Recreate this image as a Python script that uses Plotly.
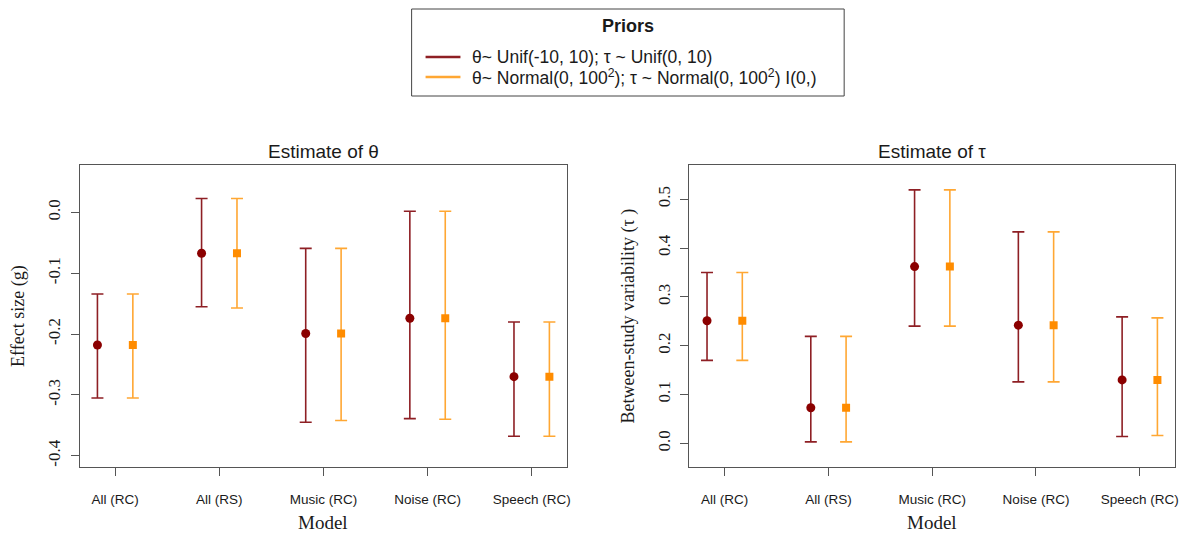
import plotly.graph_objects as go

models = ["All (RC)", "All (RS)", "Music (RC)", "Noise (RC)", "Speech (RC)"]

# Estimate of theta (effect size g)
theta_unif_est = [-0.218, -0.067, -0.199, -0.174, -0.270]
theta_unif_lo = [-0.305, -0.155, -0.345, -0.339, -0.368]
theta_unif_hi = [-0.134, 0.023, -0.059, 0.002, -0.180]
theta_norm_est = [-0.218, -0.067, -0.199, -0.174, -0.270]
theta_norm_lo = [-0.305, -0.157, -0.342, -0.340, -0.368]
theta_norm_hi = [-0.134, 0.023, -0.059, 0.002, -0.180]

# Estimate of tau (between-study variability)
tau_unif_est = [0.251, 0.073, 0.362, 0.242, 0.130]
tau_unif_lo = [0.170, 0.003, 0.240, 0.126, 0.014]
tau_unif_hi = [0.350, 0.219, 0.519, 0.433, 0.259]
tau_norm_est = [0.251, 0.073, 0.362, 0.242, 0.130]
tau_norm_lo = [0.170, 0.003, 0.240, 0.126, 0.016]
tau_norm_hi = [0.350, 0.219, 0.519, 0.433, 0.257]

theta_ticks = [-0.4, -0.3, -0.2, -0.1, 0.0]
tau_ticks = [0.0, 0.1, 0.2, 0.3, 0.4, 0.5]

legend_title = "Priors"
prior_labels = [
    "θ~ Unif(-10, 10); τ ~ Unif(0, 10)",
    "θ~ Normal(0, 100<sup>2</sup>); τ ~ Normal(0, 100<sup>2</sup>) I(0,)",
]

RED_PT = "#8B0000"
RED_BAR = "#8E1F24"
ORA_PT = "#FF8C00"
ORA_BAR = "#FFA733"
FRAME = "#555555"
TXT = "#1a1a1a"
SANS = "Liberation Sans, Arial, sans-serif"
SERIF = "Liberation Serif, Times New Roman, serif"

pos = list(range(1, len(models) + 1))
offset = 0.17

fig = go.Figure()

def add_series(xax, yax, est, lo, hi, shift, pt_col, bar_col, symbol, size):
    fig.add_trace(go.Scatter(
        x=[p + shift for p in pos], y=est,
        mode="markers",
        marker=dict(color=pt_col, symbol=symbol, size=size, line=dict(width=0)),
        error_y=dict(type="data", symmetric=False,
                     array=[h - e for h, e in zip(hi, est)],
                     arrayminus=[e - l for e, l in zip(est, lo)],
                     color=bar_col, thickness=1.6, width=6),
        xaxis=xax, yaxis=yax, showlegend=False, hoverinfo="skip",
    ))

add_series("x", "y", theta_unif_est, theta_unif_lo, theta_unif_hi, -offset, RED_PT, RED_BAR, "circle", 9)
add_series("x", "y", theta_norm_est, theta_norm_lo, theta_norm_hi, offset, ORA_PT, ORA_BAR, "square", 8)
add_series("x2", "y2", tau_unif_est, tau_unif_lo, tau_unif_hi, -offset, RED_PT, RED_BAR, "circle", 9)
add_series("x2", "y2", tau_norm_est, tau_norm_lo, tau_norm_hi, offset, ORA_PT, ORA_BAR, "square", 8)

W, H = 1194, 537
ydom = [1 - 467.3 / H, 1 - 165 / H]

def px(x):
    return x / W

def py(y):
    return 1 - y / H

xcommon = dict(
    tickmode="array", tickvals=pos, ticktext=models,
    showgrid=False, zeroline=False,
    showline=True, linecolor=FRAME, linewidth=1, mirror=True,
    ticks="outside", ticklen=8, tickcolor=FRAME, tickwidth=1,
    tickfont=dict(family=SANS, size=13.5, color=TXT),
    range=[0.66, 5.34],
    ticklabelstandoff=11,
)
ycommon = dict(
    showgrid=False, zeroline=False,
    showline=True, linecolor=FRAME, linewidth=1, mirror=True,
    ticks="outside", ticklen=8, tickcolor=FRAME, tickwidth=1,
    tickangle=-90,
    tickfont=dict(family=SERIF, size=17, color=TXT),
    domain=ydom,
    ticklabelstandoff=4,
)

# manual legend box (R-style)
shapes = [
    dict(type="rect", xref="paper", yref="paper", x0=px(413), x1=px(847), y0=py(96), y1=py(9),
         line=dict(color="#444444", width=1), fillcolor="white", layer="above"),
]
annotations = [
    dict(text="<b>%s</b>" % legend_title, x=px(630), y=py(26), xref="paper", yref="paper",
         showarrow=False, xanchor="center", yanchor="middle",
         font=dict(family=SANS, size=18, color=TXT)),
]
for lab, col, yy in zip(prior_labels, [RED_BAR, ORA_BAR], [57, 77]):
    shapes.append(dict(type="line", xref="paper", yref="paper", x0=px(427), x1=px(462),
                       y0=py(yy), y1=py(yy), line=dict(color=col, width=2.5), layer="above"))
    annotations.append(dict(text=lab, x=px(472), y=py(yy), xref="paper", yref="paper",
                            showarrow=False, xanchor="left", yanchor="middle",
                            font=dict(family=SANS, size=17.5, color=TXT)))

# subplot titles and x-axis titles
annotations += [
    dict(text="Estimate of θ", x=px((80 + 569) / 2), y=py(151), xref="paper", yref="paper",
         showarrow=False, xanchor="center", yanchor="middle",
         font=dict(family=SANS, size=19, color=TXT)),
    dict(text="Estimate of τ", x=px((691.7 + 1179) / 2), y=py(151), xref="paper", yref="paper",
         showarrow=False, xanchor="center", yanchor="middle",
         font=dict(family=SANS, size=19, color=TXT)),
    dict(text="Model", x=px((80 + 569) / 2), y=py(522), xref="paper", yref="paper",
         showarrow=False, xanchor="center", yanchor="middle",
         font=dict(family=SERIF, size=19, color=TXT)),
    dict(text="Model", x=px((691.7 + 1179) / 2), y=py(522), xref="paper", yref="paper",
         showarrow=False, xanchor="center", yanchor="middle",
         font=dict(family=SERIF, size=19, color=TXT)),
]

fig.update_layout(
    width=W, height=H,
    margin=dict(l=0, r=0, t=0, b=0),
    paper_bgcolor="white", plot_bgcolor="white",
    showlegend=False,
    xaxis=dict(domain=[px(80), px(569)], anchor="y", **xcommon),
    xaxis2=dict(domain=[px(691.7), px(1179)], anchor="y2", **xcommon),
    yaxis=dict(anchor="x", range=[-0.419, 0.078],
               tickvals=theta_ticks,
               ticktext=["%.1f" % v for v in theta_ticks],
               title=dict(text="Effect size (g)", font=dict(family=SERIF, size=18, color=TXT)),
               **ycommon),
    yaxis2=dict(anchor="x2", range=[-0.049, 0.570],
                tickvals=tau_ticks,
                ticktext=["%.1f" % v for v in tau_ticks],
                title=dict(text="Between-study variability (τ )", font=dict(family=SERIF, size=18, color=TXT)),
                **ycommon),
    shapes=shapes,
    annotations=annotations,
)

fig.write_html("out.html")
